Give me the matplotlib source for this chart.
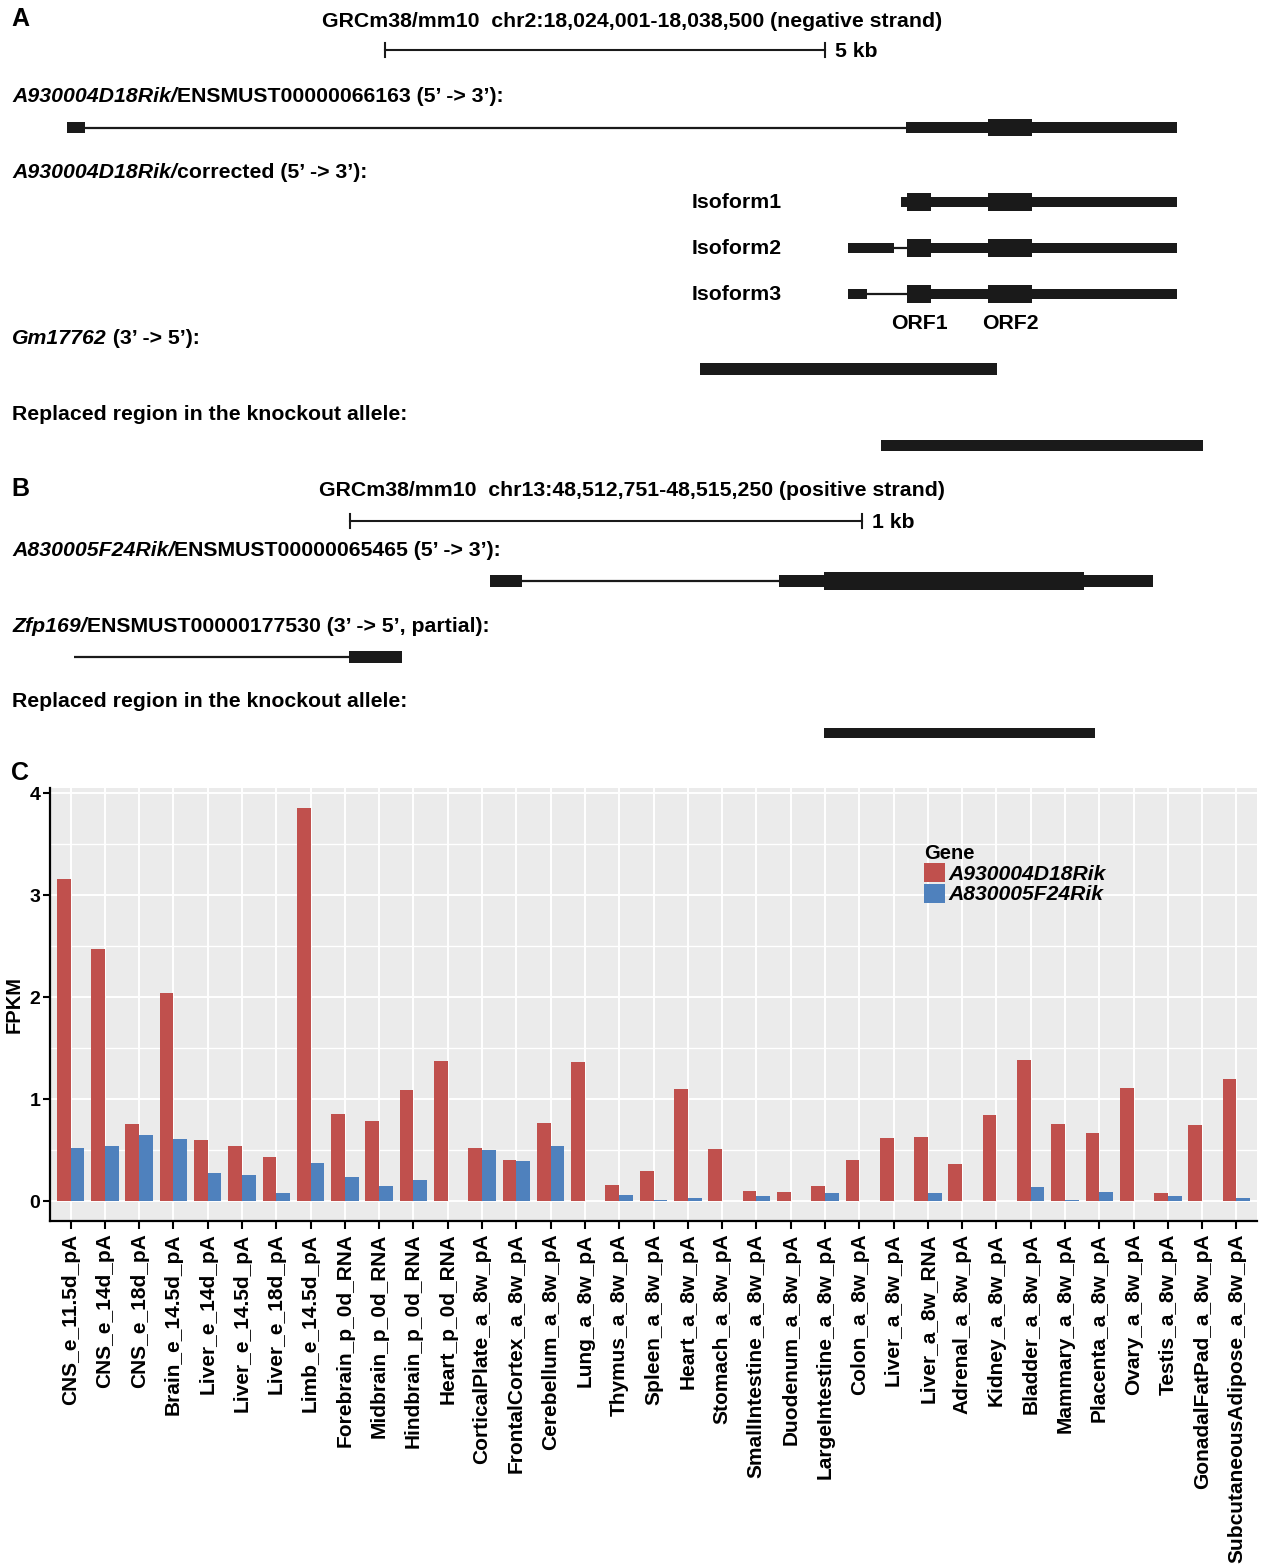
import matplotlib
matplotlib.use("Agg")
import matplotlib.pyplot as plt
from matplotlib.patches import Rectangle
import numpy as np

plt.rcParams['font.family'] = ['Liberation Sans', 'DejaVu Sans']

W, H = 1264, 1566
FS = 15.3  # gene panel text size

# ---- panel A: chr2 locus, positions in kb from the left edge of the panel ----
KB_PX_A = 88.0
scale_a = (4.375, 9.375)
ens066163_exons = [(0.76, 0.97), (10.30, 13.375)]
ens066163_cds = [(11.23, 11.73)]
iso1_exons = [(10.24, 13.375)]
iso2_exons = [(9.64, 10.16), (10.31, 13.375)]
iso3_exons = [(9.64, 9.85), (10.31, 13.375)]
orf_cds = [(10.31, 10.58), (11.23, 11.73)]
orf_names = ['ORF1', 'ORF2']
gm17762 = (7.95, 11.33)
replaced_a = (10.01, 13.67)

# ---- panel B: chr13 locus ----
KB_PX_B = 512.0
scale_b = (0.684, 1.684)
ens065465_exons = [(0.957, 1.020), (1.521, 2.252)]
ens065465_cds = [(1.609, 2.117)]
zfp169_line_start = 0.145
zfp169_exons = [(0.682, 0.785)]
replaced_b = (1.609, 2.139)

# ---- panel C: expression ----
tissues = ['CNS_e_11.5d_pA', 'CNS_e_14d_pA', 'CNS_e_18d_pA', 'Brain_e_14.5d_pA',
           'Liver_e_14d_pA', 'Liver_e_14.5d_pA', 'Liver_e_18d_pA', 'Limb_e_14.5d_pA',
           'Forebrain_p_0d_RNA', 'Midbrain_p_0d_RNA', 'Hindbrain_p_0d_RNA', 'Heart_p_0d_RNA',
           'CorticalPlate_a_8w_pA', 'FrontalCortex_a_8w_pA', 'Cerebellum_a_8w_pA', 'Lung_a_8w_pA',
           'Thymus_a_8w_pA', 'Spleen_a_8w_pA', 'Heart_a_8w_pA', 'Stomach_a_8w_pA',
           'SmallIntestine_a_8w_pA', 'Duodenum_a_8w_pA', 'LargeIntestine_a_8w_pA', 'Colon_a_8w_pA',
           'Liver_a_8w_pA', 'Liver_a_8w_RNA', 'Adrenal_a_8w_pA', 'Kidney_a_8w_pA',
           'Bladder_a_8w_pA', 'Mammary_a_8w_pA', 'Placenta_a_8w_pA', 'Ovary_a_8w_pA',
           'Testis_a_8w_pA', 'GonadalFatPad_a_8w_pA', 'SubcutaneousAdipose_a_8w_pA']
fpkm_a930 = [3.16, 2.47, 0.76, 2.04, 0.60, 0.54, 0.43, 3.85, 0.85, 0.79, 1.09, 1.37,
             0.52, 0.40, 0.77, 1.36, 0.16, 0.30, 1.10, 0.51, 0.095, 0.085, 0.144, 0.40,
             0.62, 0.63, 0.36, 0.84, 1.38, 0.76, 0.67, 1.11, 0.075, 0.75, 1.20]
fpkm_a830 = [0.52, 0.54, 0.65, 0.61, 0.28, 0.26, 0.08, 0.37, 0.24, 0.15, 0.21, 0.004,
             0.50, 0.39, 0.54, 0.004, 0.06, 0.013, 0.033, 0.004, 0.046, 0.004, 0.079, 0.004,
             0.004, 0.075, 0.004, 0.004, 0.137, 0.013, 0.09, 0.004, 0.05, 0.004, 0.03]
gene_names = ['A930004D18Rik', 'A830005F24Rik']
gene_colors = ['#C0504D', '#4F81BD']

fig = plt.figure(figsize=(W / 100, H / 100), dpi=100)
renderer = fig.canvas.get_renderer()


def ftext(x, y, s, **kw):
    kw.setdefault('fontsize', FS)
    kw.setdefault('fontweight', 'bold')
    kw.setdefault('va', 'center')
    return fig.text(x / W, 1 - (y + 1.5) / H, s, **kw)


def mixed(x, y, parts):
    # parts: list of (string, italic?) drawn one after another
    for s, it in parts:
        t = ftext(x, y, s, style='italic' if it else 'normal')
        x += t.get_window_extent(renderer).width


def transcript(ax, y, exons, cds=(), h_utr=11.6, h_cds=17.7, line_from=None):
    x0 = exons[0][0] if line_from is None else line_from
    ax.plot([x0, exons[-1][1]], [y, y], color='#1a1a1a', lw=1.6, solid_capstyle='butt', zorder=1)
    for a, b in exons:
        ax.add_patch(Rectangle((a, y - h_utr / 2), b - a, h_utr, color='#1a1a1a', lw=0, zorder=2))
    for a, b in cds:
        ax.add_patch(Rectangle((a, y - h_cds / 2), b - a, h_cds, color='#1a1a1a', lw=0, zorder=3))


def scalebar(ax, y, span, label):
    a, b = span
    ax.plot([a, b], [y, y], color='#1a1a1a', lw=1.5)
    for x in span:
        ax.plot([x, x], [y - 7, y + 7], color='#1a1a1a', lw=1.5)
    ax.text(b + 10 / (ax.bbox.width / np.diff(ax.get_xlim())[0]), y + 1.5, label,
            fontsize=FS, fontweight='bold', va='center', ha='left')


# ---------------- panel A ----------------
axA = fig.add_axes([0, 1 - 470 / H, 1, 470 / H])
axA.set_xlim(0, W / KB_PX_A)
axA.set_ylim(470, 0)
axA.axis('off')

ftext(11, 18, 'A', fontsize=18)
ftext(W / 2, 20, 'GRCm38/mm10  chr2:18,024,001-18,038,500 (negative strand)', ha='center')
scalebar(axA, 50, scale_a, '5 kb')
mixed(12, 95, [('A930004D18Rik/', True), ('ENSMUST00000066163 (5\u2019 -> 3\u2019):', False)])
transcript(axA, 127.5, ens066163_exons, ens066163_cds)
mixed(12, 171, [('A930004D18Rik/', True), ('corrected (5\u2019 -> 3\u2019):', False)])
for i, (name, ex) in enumerate(zip(['Isoform1', 'Isoform2', 'Isoform3'],
                                   [iso1_exons, iso2_exons, iso3_exons])):
    yy = 202 + 46 * i
    ftext(692, yy - 1, name)
    transcript(axA, yy, ex, orf_cds, h_utr=10.5, h_cds=18)
for (a, b), name in zip(orf_cds, orf_names):
    axA.text((a + b) / 2, 323.5, name, fontsize=FS, fontweight='bold', ha='center', va='center')
mixed(12, 337, [('Gm17762', True), (' (3\u2019 -> 5\u2019):', False)])
axA.add_patch(Rectangle((gm17762[0], 369 - 6), gm17762[1] - gm17762[0], 12, color='#1a1a1a', lw=0))
ftext(12, 413, 'Replaced region in the knockout allele:')
axA.add_patch(Rectangle((replaced_a[0], 445 - 5.5), replaced_a[1] - replaced_a[0], 11, color='#1a1a1a', lw=0))

# ---------------- panel B ----------------
axB = fig.add_axes([0, 1 - 760 / H, 1, 290 / H])
axB.set_xlim(0, W / KB_PX_B)
axB.set_ylim(760, 470)
axB.axis('off')

ftext(11, 487, 'B', fontsize=18)
ftext(W / 2, 489, 'GRCm38/mm10  chr13:48,512,751-48,515,250 (positive strand)', ha='center')
scalebar(axB, 520.5, scale_b, '1 kb')
mixed(12, 549, [('A830005F24Rik/', True), ('ENSMUST00000065465 (5\u2019 -> 3\u2019):', False)])
transcript(axB, 581, ens065465_exons, ens065465_cds, h_utr=11.5, h_cds=18.5)
mixed(12, 625, [('Zfp169/', True), ('ENSMUST00000177530 (3\u2019 -> 5\u2019, partial):', False)])
transcript(axB, 657, zfp169_exons, line_from=zfp169_line_start, h_utr=12)
ftext(12, 700, 'Replaced region in the knockout allele:')
axB.add_patch(Rectangle((replaced_b[0], 733 - 5), replaced_b[1] - replaced_b[0], 10, color='#1a1a1a', lw=0))

# ---------------- panel C ----------------
ftext(11, 772, 'C', fontsize=18)
axC = fig.add_axes([50 / W, 1 - 1221 / H, 1207 / W, 433 / H])
axC.set_facecolor('#EBEBEB')
x = np.arange(len(tissues))
bw = 0.4
bars = []
for k, (vals, col) in enumerate(zip([fpkm_a930, fpkm_a830], gene_colors)):
    bars.append(axC.bar(x + (k - 0.5) * bw, vals, width=bw, color=col, lw=0, zorder=3))

axC.set_xlim(-0.6, len(tissues) - 0.4)
axC.set_ylim(-0.195, 4.05)
axC.set_xticks(x)
axC.set_xticklabels(tissues, rotation=90, fontsize=15, fontweight='bold', va='top', ha='center')
axC.set_yticks(np.arange(0, 5, 1))
axC.set_yticklabels([str(v) for v in range(5)], fontsize=14, fontweight='bold')
axC.set_yticks(np.arange(0.5, 4, 1), minor=True)
axC.grid(which='major', color='white', lw=1.4, zorder=0)
axC.grid(which='minor', axis='y', color='white', lw=1.0, zorder=0)
axC.set_axisbelow(True)
axC.tick_params(axis='y', which='major', length=5, width=1.5, pad=2, colors='black')
axC.tick_params(axis='y', which='minor', length=0)
axC.tick_params(axis='x', length=6, width=1.5, pad=3)
for side in ['top', 'right']:
    axC.spines[side].set_visible(False)
for side in ['left', 'bottom']:
    axC.spines[side].set_linewidth(1.6)
    axC.spines[side].set_color('black')
axC.set_ylabel('FPKM', fontsize=14.5, fontweight='bold', labelpad=4)

leg = axC.legend(bars, gene_names, title='Gene', loc='upper left',
                 bbox_to_anchor=(0.7155, 0.895), frameon=False, borderpad=0,
                 handlelength=1.0, handleheight=1.0, handletextpad=0.15, labelspacing=0.0,
                 prop={'size': 15.2, 'weight': 'bold', 'style': 'italic'},
                 title_fontproperties={'size': 14.5, 'weight': 'bold'}, alignment='left')

fig.savefig('out.png', dpi=100)
